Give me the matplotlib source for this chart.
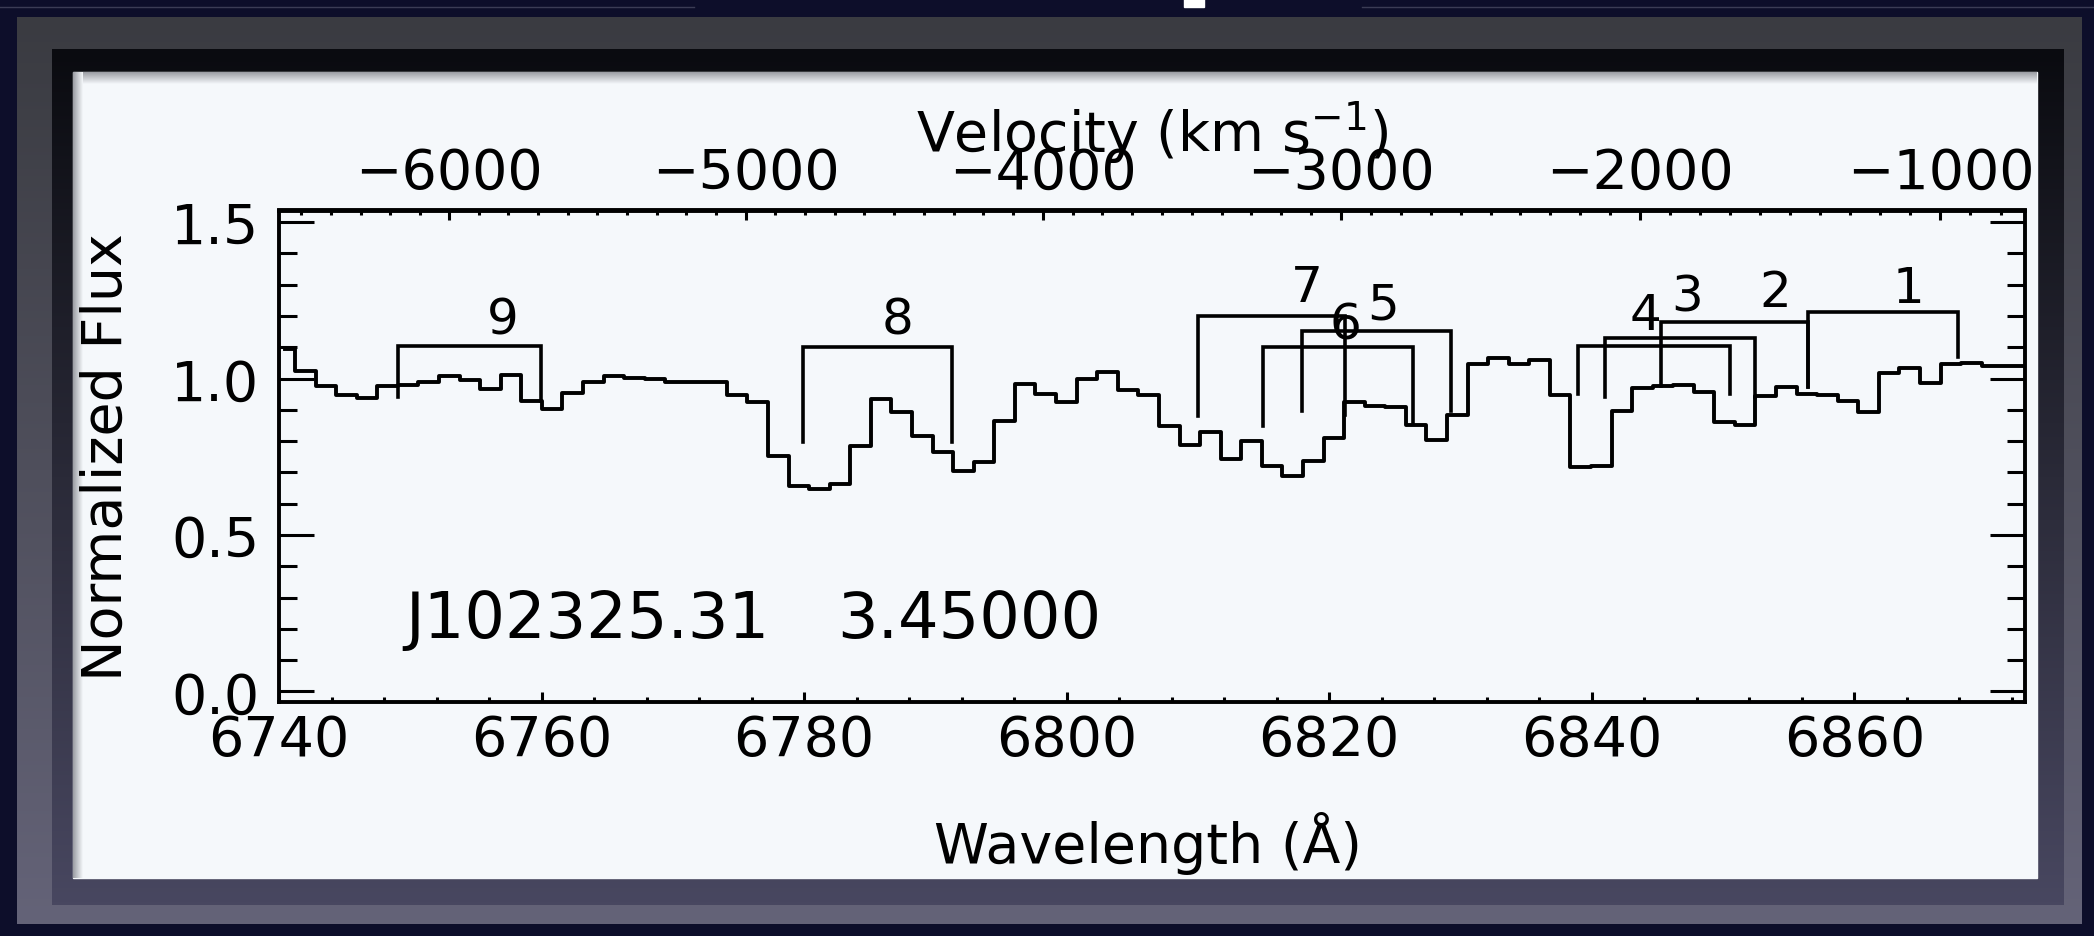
import numpy as np
import matplotlib
matplotlib.use('Agg')
import matplotlib.pyplot as plt
from matplotlib.patches import Rectangle
from matplotlib.colors import LinearSegmentedColormap
from matplotlib.ticker import MultipleLocator

# --- spectrum (bin centres in Angstrom, normalized flux) ---
wave = [6740.43, 6742.00, 6743.57, 6745.13, 6746.70, 6748.27, 6749.83, 6751.40,
        6752.97, 6754.53, 6756.10, 6757.67, 6759.23, 6760.80, 6762.37, 6763.94,
        6765.50, 6767.07, 6768.64, 6770.20, 6771.77, 6773.34, 6774.90, 6776.47,
        6778.04, 6779.60, 6781.17, 6782.74, 6784.31, 6785.87, 6787.44, 6789.01,
        6790.57, 6792.14, 6793.71, 6795.27, 6796.84, 6798.41, 6799.98, 6801.54,
        6803.11, 6804.68, 6806.24, 6807.81, 6809.38, 6810.95, 6812.51, 6814.08,
        6815.65, 6817.21, 6818.78, 6820.35, 6821.91, 6823.48, 6825.05, 6826.62,
        6828.18, 6829.75, 6831.32, 6832.88, 6834.45, 6836.02, 6837.58, 6839.15,
        6840.72, 6842.29, 6843.85, 6845.42, 6846.99, 6848.55, 6850.12, 6851.69,
        6853.25, 6854.82, 6856.39, 6857.96, 6859.52, 6861.09, 6862.66, 6864.22,
        6865.79, 6867.36, 6868.92, 6870.49, 6872.06, 6873.63]
flux = [1.094, 1.023, 0.975, 0.947, 0.937, 0.975, 0.979, 0.990,
        1.007, 0.995, 0.966, 1.011, 0.927, 0.903, 0.954, 0.988,
        1.007, 1.003, 0.997, 0.990, 0.988, 0.988, 0.947, 0.924,
        0.751, 0.658, 0.647, 0.663, 0.785, 0.934, 0.892, 0.817,
        0.766, 0.705, 0.732, 0.865, 0.982, 0.950, 0.924, 0.998,
        1.020, 0.964, 0.947, 0.849, 0.788, 0.828, 0.743, 0.801,
        0.721, 0.687, 0.737, 0.809, 0.924, 0.913, 0.908, 0.851,
        0.805, 0.883, 1.046, 1.065, 1.046, 1.060, 0.947, 0.716,
        0.719, 0.897, 0.969, 0.975, 0.979, 0.958, 0.860, 0.851,
        0.945, 0.972, 0.950, 0.947, 0.929, 0.892, 1.018, 1.033,
        0.986, 1.046, 1.049, 1.041, 1.041, 1.041]

# --- absorption trough brackets, numbered 1..9 ---
trough_id = ['1', '2', '3', '4', '5', '6', '7', '8', '9']
trough_lo = [6856.46, 6845.29, 6841.00, 6838.98, 6817.94, 6814.93, 6809.97, 6779.90, 6749.03]
trough_hi = [6867.86, 6856.46, 6852.40, 6850.56, 6829.31, 6826.38, 6821.17, 6791.27, 6759.97]
trough_top = [1.211, 1.182, 1.129, 1.103, 1.153, 1.100, 1.201, 1.100, 1.103]
leg_lo_left = [0.972, 0.975, 0.940, 0.950, 0.897, 0.849, 0.881, 0.796, 0.940]
leg_lo_right = [1.068, 0.972, 0.940, 0.950, 0.897, 0.855, 0.884, 0.796, 0.929]
label_x = [6864.1, 6854.0, 6847.25, 6844.1, 6824.1, 6821.2, 6818.3, 6787.1, 6757.05]
label_y = [1.289, 1.275, 1.262, 1.204, 1.236, 1.173, 1.291, 1.190, 1.190]

obj_name = 'J102325.31'
obj_z = '3.45000'

LAM0 = 6889.5      # CIV 1548.2 at z = 3.45
C_KMS = 299792.458


def lam2vel(lam):
    r2 = (np.asarray(lam, dtype=float) / LAM0) ** 2
    return C_KMS * (r2 - 1) / (r2 + 1)


def vel2lam(v):
    b = np.clip(np.asarray(v, dtype=float) / C_KMS, -0.99, 0.99)
    return LAM0 * np.sqrt((1 + b) / (1 - b))


plt.rcParams['font.family'] = 'DejaVu Sans'
plt.rcParams['font.size'] = 40
plt.rcParams['mathtext.default'] = 'regular'

W, H = 2094, 937
fig = plt.figure(figsize=(W / 100, H / 100), dpi=100)
fig.patch.set_facecolor('#0d0e2a')

# slide decoration: grey frame, dark inner band, white panel
bg = fig.add_axes([0, 0, 1, 1])
bg.set_xlim(0, W)
bg.set_ylim(H, 0)
bg.axis('off')
grad = np.linspace(0, 1, 256).reshape(-1, 1)
frame_cm = LinearSegmentedColormap.from_list('frame', ['#3a3b41', '#4f4f5c', '#646378'])
band_cm = LinearSegmentedColormap.from_list('band', ['#0a0b10', '#2a2a38', '#484760'])
bg.imshow(grad, extent=(17, 2082, 925, 18), cmap=frame_cm, aspect='auto', zorder=1)
bg.imshow(grad, extent=(52, 2064, 906, 50), cmap=band_cm, aspect='auto', zorder=2)
bg.add_patch(Rectangle((73, 73), 2037 - 73, 879 - 73, color='#f5f8fb', zorder=3))
# soft shadow along the top and left edge of the panel
shade_cm = LinearSegmentedColormap.from_list('shade', ['#9a9ca2', '#f5f8fb'])
bg.imshow(grad, extent=(73, 2037, 85, 73), cmap=shade_cm, aspect='auto', zorder=4)
bg.imshow(grad.T, extent=(73, 83, 879, 73), cmap=shade_cm, aspect='auto', zorder=4)
bg.plot([0, 694], [8, 8], color='#3b3c55', lw=1, zorder=1)
bg.plot([1362, W], [8, 8], color='#3b3c55', lw=1, zorder=1)
bg.add_patch(Rectangle((1184, 0), 20, 8, color='white', zorder=5))
bg.set_xlim(0, W)
bg.set_ylim(H, 0)

ax = fig.add_axes([279 / W, 1 - 703 / H, (2025 - 279) / W, (703 - 211.5) / H])
ax.set_facecolor('none')

ax.plot(wave, flux, drawstyle='steps-mid', color='k', lw=2.8)
for i in range(len(trough_id)):
    ax.plot([trough_lo[i], trough_lo[i], trough_hi[i], trough_hi[i]],
            [leg_lo_left[i], trough_top[i], trough_top[i], leg_lo_right[i]],
            color='k', lw=2.6, solid_joinstyle='miter')
    ax.text(label_x[i], label_y[i], trough_id[i], ha='center', va='center', fontsize=36)

ax.text(6749.6, 0.174, obj_name, fontsize=46, va='baseline')
ax.text(6782.5, 0.174, obj_z, fontsize=46, va='baseline')

ax.set_xlim(6740, 6873)
ax.set_ylim(-0.034, 1.537)
ax.xaxis.set_major_locator(MultipleLocator(20))
ax.xaxis.set_minor_locator(MultipleLocator(4))
ax.yaxis.set_major_locator(MultipleLocator(0.5))
ax.yaxis.set_minor_locator(MultipleLocator(0.1))
ax.yaxis.set_major_formatter(plt.FormatStrFormatter('%.1f'))
ax.tick_params(axis='x', which='both', direction='in', top=False, bottom=True, width=2.2)
ax.tick_params(axis='x', which='major', length=7.5, pad=8)
ax.tick_params(axis='x', which='minor', length=3.5)
ax.tick_params(axis='y', which='both', direction='in', left=True, right=True, width=2.2)
ax.tick_params(axis='y', which='major', length=25, pad=14)
ax.tick_params(axis='y', which='minor', length=13)
for sp in ax.spines.values():
    sp.set_linewidth(2.8)

ax.set_xlabel('Wavelength (Å)')
ax.xaxis.label.set_va('center')
ax.xaxis.set_label_coords(0.4977, -0.285)
ax.set_ylabel('Normalized Flux')
ax.yaxis.label.set_va('center')
ax.yaxis.set_label_coords(-0.0985, 0.5)

sec = ax.secondary_xaxis('top', functions=(lam2vel, vel2lam))
sec.xaxis.set_major_locator(MultipleLocator(1000))
sec.xaxis.set_minor_locator(MultipleLocator(100))
sec.tick_params(which='both', direction='in', width=2.2)
sec.tick_params(which='major', length=7.5, pad=8)
sec.tick_params(which='minor', length=3.5)
sec.spines['top'].set_linewidth(2.8)
sec.set_xlabel('Velocity (km s$^{-1}$)', labelpad=-3)

fig.savefig('out.png', dpi=100, facecolor=fig.get_facecolor())
